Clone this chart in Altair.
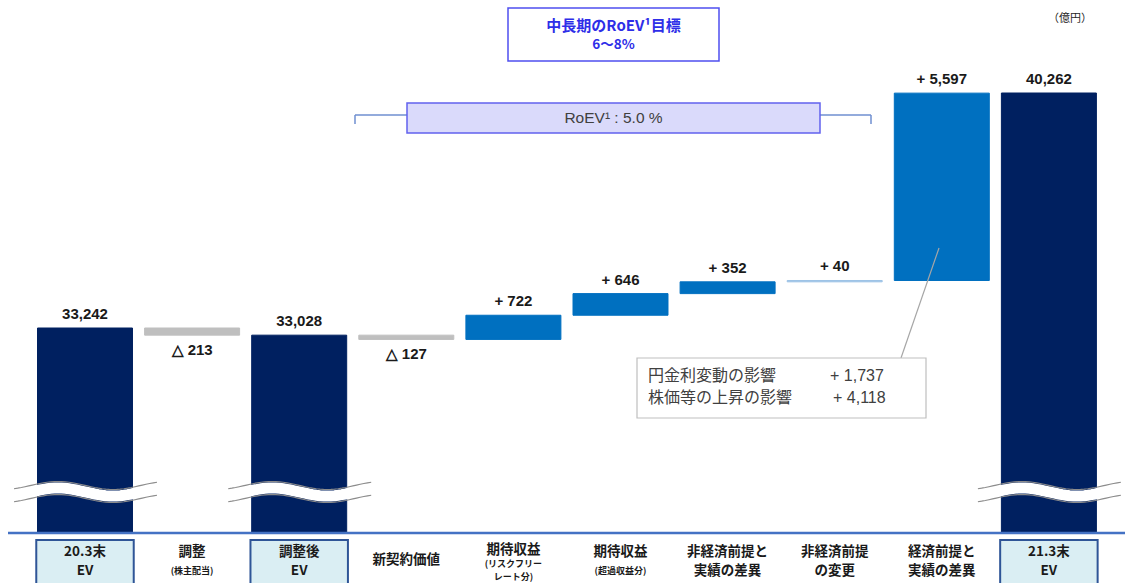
import altair as alt
import numpy as np
import pandas as pd

# ---------------- data ----------------
CATEGORIES = ["20.3末 EV", "調整", "調整後 EV", "新契約価値", "期待収益(リスクフリーレート分)",
              "期待収益(超過収益分)", "非経済前提と実績の差異", "非経済前提の変更",
              "経済前提と実績の差異", "21.3末 EV"]
VALUES = [33242, -213, 33028, -127, 722, 646, 352, 40, 5597, 40262]
KINDS = ["total", "decrease", "total", "decrease", "increase", "increase",
         "increase", "minor", "increase", "total"]
CAT_MAIN = [["20.3末", "EV"], ["調整"], ["調整後", "EV"], ["新契約価値"], ["期待収益"],
            ["期待収益"], ["非経済前提と", "実績の差異"], ["非経済前提", "の変更"],
            ["経済前提と", "実績の差異"], ["21.3末", "EV"]]
CAT_SUB = [[], ["(株主配当)"], [], [], ["(リスクフリー", "レート分)"], ["(超過収益分)"],
           [], [], [], []]
TITLE_LINES = ["中長期のRoEV¹目標", "6〜8%"]
ROEV_TEXT = "RoEV¹ : 5.0 %"
BREAKDOWN_ITEMS = ["円金利変動の影響", "株価等の上昇の影響"]
BREAKDOWN_VALUES = [1737, 4118]
UNIT = "（億円）"

COLORS = {"total": "#002060", "decrease": "#BFBFBF", "increase": "#0070C0", "minor": "#9DC3E6"}

# ---------------- geometry ----------------
W, H = 1125, 583
X_C0, X_STEP = 85.0, 107.1           # first bar centre / bar spacing (px)
TOP_FIRST_PX, TOP_LAST_PX = 328, 93  # pixel tops of first and last totals
K = (VALUES[-1] - VALUES[0]) / (TOP_FIRST_PX - TOP_LAST_PX)   # value units per px
Y_TOP = VALUES[0] + TOP_FIRST_PX * K


def sx(p):
    return (p - X_C0) / X_STEP


def sy(p):
    return Y_TOP - p * K


BASE_PX = 533
FLOOR = sy(BASE_PX)
HALF = 0.4435

x_scale = alt.Scale(domain=[sx(0), sx(W)], nice=False, zero=False)
y_scale = alt.Scale(domain=[sy(H), sy(0)], nice=False, zero=False)

# ---------------- waterfall table ----------------
rows = []
level = None
for i, (c, v, k) in enumerate(zip(CATEGORIES, VALUES, KINDS)):
    if k == "total":
        start, end = FLOOR, v
        level = v
        label = f"{v:,}"
    else:
        start, end = level, level + v
        level = end
        label = f"+ {v:,}" if v > 0 else f"△ {abs(v):,}"
    top, bot = max(start, end), min(start, end)
    ly = top + 14 * K if k != "decrease" else bot - 15 * K
    rows.append(dict(i=i, cat=c, kind=k, x0=i - HALF, x1=i + HALF,
                     start=start, end=end, label=label, ly=ly, xc=float(i)))
df = pd.DataFrame(rows)

X = lambda f: alt.X(f, scale=x_scale, axis=None)
Y = lambda f: alt.Y(f, scale=y_scale, axis=None)

color_scale = alt.Scale(domain=list(COLORS), range=list(COLORS.values()))

bars = alt.Chart(df).mark_bar(strokeWidth=1).encode(
    x=X("x0:Q"), x2="x1:Q", y=Y("start:Q"), y2="end:Q",
    color=alt.Color("kind:N", scale=color_scale, legend=None),
    stroke=alt.Stroke("kind:N", scale=color_scale, legend=None),
)

value_labels = alt.Chart(df).mark_text(
    font="Liberation Sans", fontWeight="bold", fontSize=15, color="#1a1a1a",
    baseline="middle", align="center"
).encode(x=X("xc:Q"), y=Y("ly:Q"), text="label:N")

# ---------------- axis-break waves ----------------
wave_rows = []
for i, k in enumerate(KINDS):
    if k != "total":
        continue
    for t in np.linspace(0, 1, 40):
        off = -4 * np.sin(np.pi * (2.6 * t - 0.3))
        mid = 492 + off
        wave_rows.append(dict(w=i, t=t, x=i + sx(X_C0 - 71 + 143 * t),
                              ym=sy(mid), yu=sy(mid - 6.5), yl=sy(mid + 6.5)))
wdf = pd.DataFrame(wave_rows)
wave_white = alt.Chart(wdf).mark_line(color="white", strokeWidth=11).encode(
    x=X("x:Q"), y=Y("ym:Q"), detail="w:N", order="t:Q")
wave_up = alt.Chart(wdf).mark_line(color="#8c8c8c", strokeWidth=1.2).encode(
    x=X("x:Q"), y=Y("yu:Q"), detail="w:N", order="t:Q")
wave_lo = alt.Chart(wdf).mark_line(color="#8c8c8c", strokeWidth=1.2).encode(
    x=X("x:Q"), y=Y("yl:Q"), detail="w:N", order="t:Q")

ONE = pd.DataFrame({"k": [0]})

baseline = alt.Chart(ONE).mark_rule(color="#4472C4", strokeWidth=2.5).encode(
    x=alt.value(8), x2=alt.value(W), y=alt.value(BASE_PX))

# ---------------- category labels ----------------
box_df = df[df.kind == "total"].assign(bx0=lambda d: d.i - 0.455, bx1=lambda d: d.i + 0.455,
                                       by0=sy(540), by1=sy(592))
cat_boxes = alt.Chart(box_df).mark_rect(fill="#DAEEF3", stroke="#2F5597", strokeWidth=2).encode(
    x=X("bx0:Q"), x2="bx1:Q", y=Y("by0:Q"), y2="by1:Q")

LINE_POS = {1: [560], 2: [552, 571], 3: [550, 564, 577]}
lab_rows = []
for i in range(len(CATEGORIES)):
    lines = [(t, "main") for t in CAT_MAIN[i]] + [(t, "sub") for t in CAT_SUB[i]]
    for (t, kind), p in zip(lines, LINE_POS[len(lines)]):
        lab_rows.append(dict(xc=float(i), y=sy(p), text=t, kind=kind))
ldf = pd.DataFrame(lab_rows)
cat_main = alt.Chart(ldf[ldf.kind == "main"]).mark_text(
    font="Noto Sans CJK JP", fontWeight="bold", fontSize=13.5, color="#1a1a1a", baseline="middle"
).encode(x=X("xc:Q"), y=Y("y:Q"), text="text:N")
cat_sub = alt.Chart(ldf[ldf.kind == "sub"]).mark_text(
    font="Noto Sans CJK JP", fontWeight="bold", fontSize=9, color="#1a1a1a", baseline="middle"
).encode(x=X("xc:Q"), y=Y("y:Q"), text="text:N")

# ---------------- annotations ----------------
def rect(x0, x1, y0, y1, **kw):
    return alt.Chart(ONE).mark_rect(**kw).encode(
        x=alt.value(x0), x2=alt.value(x1), y=alt.value(y0), y2=alt.value(y1))


def seg(x0, y0, x1, y1, **kw):
    return alt.Chart(ONE).mark_rule(**kw).encode(
        x=alt.value(x0), x2=alt.value(x1), y=alt.value(y0), y2=alt.value(y1))


def txt(s, x, y, **kw):
    return alt.Chart(ONE).mark_text(baseline="middle", **kw).encode(
        x=alt.value(x), y=alt.value(y), text=alt.value(s))


title_box = rect(508, 719, 8, 61, fill="white", stroke="#4F4FF0", strokeWidth=1.5)
title1 = txt(TITLE_LINES[0], 613.5, 26, font="Noto Sans CJK JP", fontWeight="bold",
             fontSize=15, color="#2E2EE8", align="center")
title2 = txt(TITLE_LINES[1], 613.5, 45, font="Noto Sans CJK JP", fontWeight="bold",
             fontSize=13.5, color="#2E2EE8", align="center")

br_style = dict(color="#6F8FD0", strokeWidth=1.5)
bracket = [seg(355, 115, 407, 115, **br_style), seg(355, 115, 355, 124, **br_style),
           seg(820, 115, 871, 115, **br_style), seg(871, 115, 871, 124, **br_style)]
roev_box = rect(407, 820, 103, 133, fill="#DADAFB", stroke="#6262EE", strokeWidth=1.5)
roev_txt = txt(ROEV_TEXT, 613.5, 118, font="Liberation Sans", fontSize=15.5,
               color="#404040", align="center")

leader = seg(939, 248, 901, 358, color="#A6A6A6", strokeWidth=1.2)
call_box = rect(637, 926, 358, 418, fill="white", stroke="#BFBFBF", strokeWidth=1.2)
call_txt = []
for j, (name, val) in enumerate(zip(BREAKDOWN_ITEMS, BREAKDOWN_VALUES)):
    yy = 376 + 22 * j
    call_txt.append(txt(name, 648, yy, font="Noto Sans CJK JP", fontSize=16,
                        color="#404040", align="left"))
    call_txt.append(txt(f"+ {val:,}", 830 + 3 * j, yy, font="Liberation Sans", fontSize=16,
                        color="#404040", align="left"))

unit_txt = txt(UNIT, 1048, 19, font="Noto Sans CJK JP", fontSize=11, color="#262626",
               align="left")

chart = alt.layer(
    bars, wave_white, wave_up, wave_lo, baseline, value_labels,
    cat_boxes, cat_main, cat_sub,
    title_box, title1, title2, *bracket, roev_box, roev_txt,
    leader, call_box, *call_txt, unit_txt,
).properties(
    width=W, height=H, autosize=alt.AutoSizeParams(type="none"), padding=0,
).configure_view(stroke=None)

chart.save("out.html", embed_options={"renderer": "svg", "actions": False})
